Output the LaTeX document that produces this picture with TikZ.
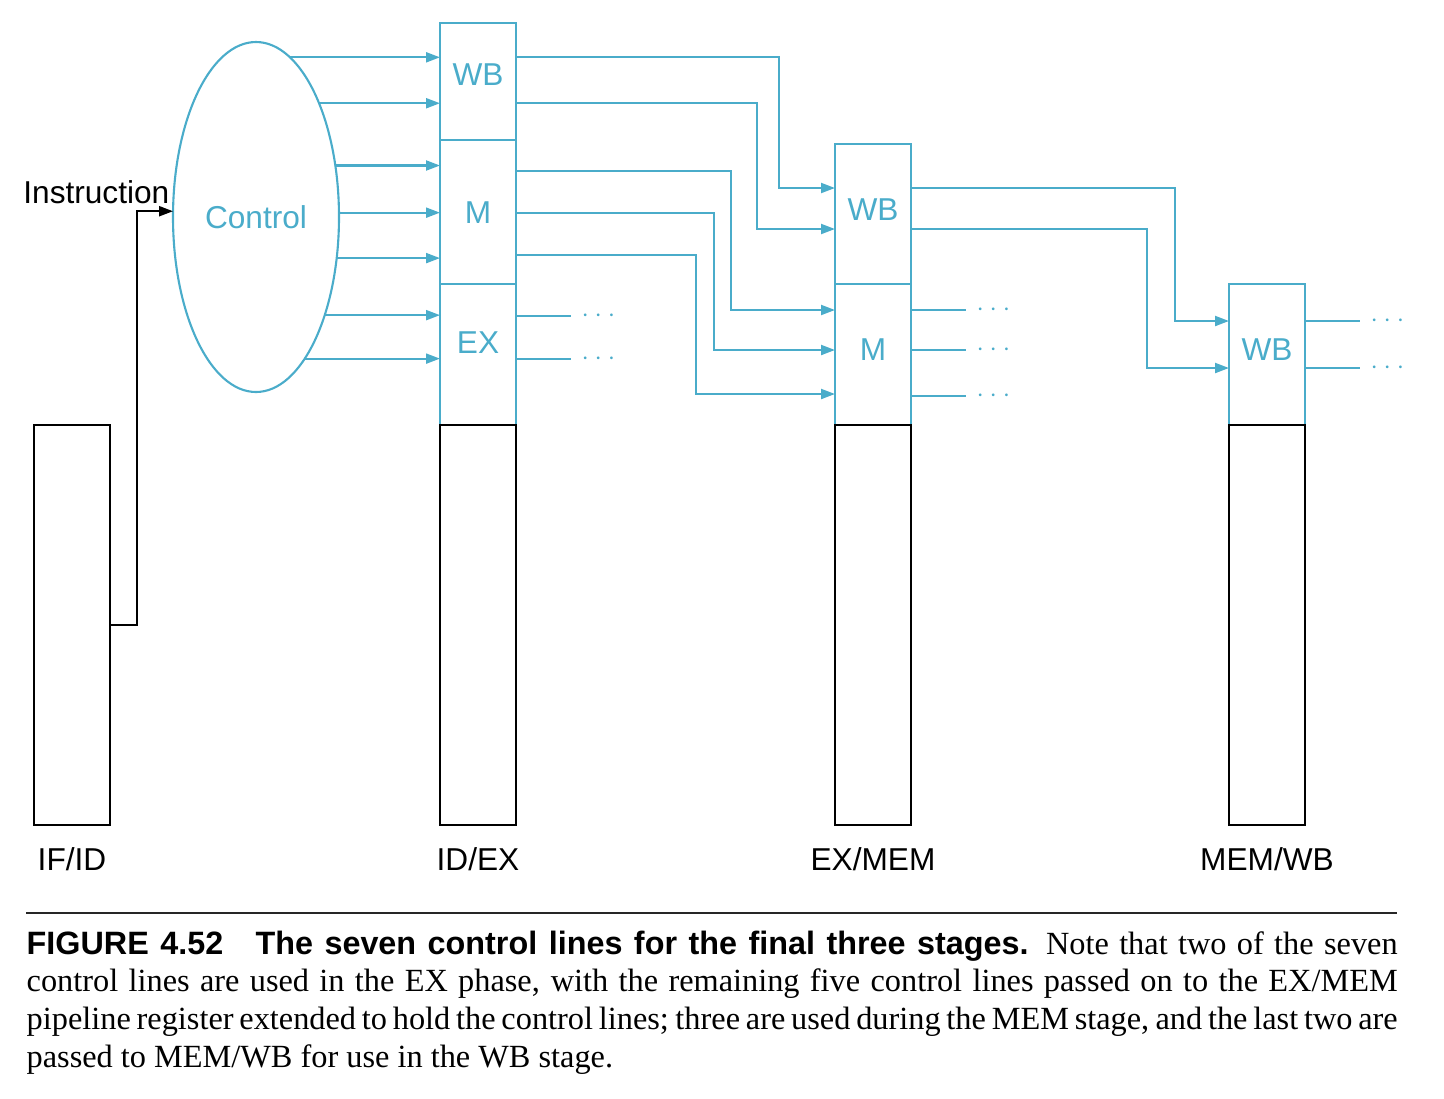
\documentclass[tikz,border=0pt]{standalone}
\usepackage{fontspec}
\setmainfont{Liberation Serif}
\setsansfont{Liberation Sans}
\newfontfamily\headfont{Liberation Sans}
\usepackage{xcolor}
\usetikzlibrary{arrows.meta,positioning,shapes.geometric,calc}
\definecolor{ctlblue}{RGB}{74,172,202}

\begin{document}
\begin{tikzpicture}[
  x=0.1mm, y=-0.1mm,
  reg/.style={draw=ctlblue, line width=0.6pt, minimum width=7.6mm, inner sep=0, outer sep=0},
  body/.style={draw=black, line width=0.6pt, minimum width=7.6mm, minimum height=40mm, inner sep=0, outer sep=0},
  tag/.style={text=ctlblue, font=\sffamily\fontsize{9}{10}\selectfont, inner sep=0},
  stage/.style={font=\sffamily\fontsize{9}{10}\selectfont, inner sep=0},
  wire/.style={draw=ctlblue, line width=0.6pt},
  arr/.style={wire, -{Triangle[length=1.4mm, width=1mm]}},
  dots/.style={text=ctlblue, inner sep=0, font=\fontsize{7}{8}\selectfont}
]
\useasboundingbox (0,0) rectangle (1444,1098);
% IF/ID register
\node[body] (ifid) at (72,625) {};
\node[stage, below=2.2mm of ifid] (ifidlbl) {IF/ID};
% ID/EX register
\node[reg, minimum height=11.7mm] (idexwb) at (478,81.5) {};
\node[reg, minimum height=14.4mm, below=0pt of idexwb] (idexm) {};
\node[reg, minimum height=14.1mm, below=0pt of idexm] (idexex) {};
\node[body, below=0pt of idexex] (idexbody) {};
\node[tag] (idexwbt) at (478,75) {WB};
\node[tag] (idexmt) at (478,213) {M};
\node[tag] (idexext) at (478,343) {EX};
\node[stage, below=2.2mm of idexbody] (idexlbl) {ID/EX};
% EX/MEM register
\node[reg, minimum height=14mm] (exmemwb) at (873,214) {};
\node[reg, minimum height=14.1mm, below=0pt of exmemwb] (exmemm) {};
\node[body, below=0pt of exmemm] (exmembody) {};
\node[tag] (exmemwbt) at (873,210) {WB};
\node[tag] (exmemmt) at (873,350) {M};
\node[stage, below=2.2mm of exmembody] (exmemlbl) {EX/MEM};
% MEM/WB register
\node[reg, minimum height=14.1mm] (memwbwb) at (1267,354.5) {};
\node[body, below=0pt of memwbwb] (memwbbody) {};
\node[tag] (memwbwbt) at (1267,350) {WB};
\node[stage, below=2.2mm of memwbbody] (memwblbl) {MEM/WB};
% control unit
\node[draw=ctlblue, line width=0.6pt, ellipse, minimum width=16.6mm, minimum height=35mm,
  outer sep=0, tag] (ctrl) at (256,217) {Control};
\node[stage, anchor=east] (instr) at (170,192) {Instruction};
\draw[line width=0.6pt, -{Triangle[length=1.4mm, width=1mm]}] (ifid.east) -- ++(27,0) |- (ctrl.176.6);
% control lines into ID/EX
\foreach \a in {78.1, 61.1, 33.8, 3.4, -27.5, -55.4, -71.1}
  \draw[arr] (ctrl.\a) -- (ctrl.\a -| idexwb.west);
% lines passed on
\foreach \src/\ya/\xm/\dst/\yb in {idexwb/57/779/exmemwb/188, idexwb/103/757/exmemwb/229,
    idexm/171/731/exmemm/310, idexm/213/714/exmemm/350, idexm/255/696/exmemm/394,
    exmemwb/188/1175/memwbwb/321, exmemwb/229/1147/memwbwb/368}
  \draw[arr] (\src.east |- 0,\ya) -| (\xm,\yb) -- (\dst.west |- 0,\yb);
% lines used in the stage
\foreach \src/\y in {idexex/316, idexex/359, exmemm/310, exmemm/350, exmemm/396,
    memwbwb/321, memwbwb/368}
  \draw[wire] (\src.east |- 0,\y) -- ++(55,0) node[dots, right=0.9mm] (dots-\src-\y) {$\cdots$};
% caption
\draw[line width=0.7pt, black!85] (26,913) -- (1397,913);
\node[anchor=base west, text width=137.1mm, align=justify, inner sep=0,
  font=\fontsize{9.2}{10.8}\selectfont] (caption) at (26,954)
  {{\headfont\bfseries FIGURE 4.52\quad The seven control lines for the final three stages.}
  Note that two of the seven\linebreak control lines are used in the EX phase, with the
  remaining five control lines passed on to the EX/MEM\linebreak pipeline register extended
  to hold the control lines; three are used during the MEM stage, and the last two
  are\linebreak passed to MEM/WB for use in the WB stage.};
\end{tikzpicture}
\end{document}
